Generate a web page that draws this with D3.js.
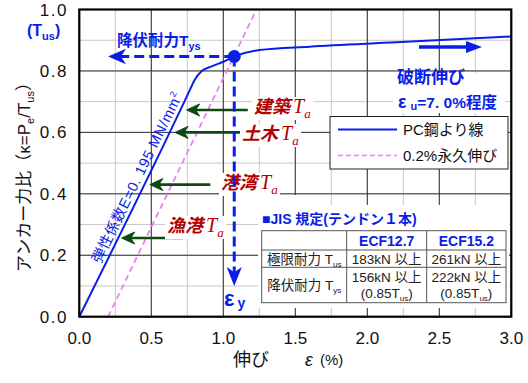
<!DOCTYPE html>
<html><head><meta charset="utf-8">
<script src="https://cdn.jsdelivr.net/npm/d3@7"></script>
<style>
body{margin:0;background:#fff;}
text{font-family:"Liberation Sans","Noto Sans CJK JP",sans-serif;}
</style></head><body>
<svg id="chart" width="528" height="383"></svg>
<script>
// ---- data ----
const curveX = [0, 0.76, 0.80, 0.85, 0.92, 1.0, 1.076, 1.25, 1.6, 2.2, 3.0];
const curveY = [0, 0.73, 0.77, 0.80, 0.815, 0.83, 0.847, 0.868, 0.879, 0.893, 0.912];
const offsetX = [0.2, 1.23];
const offsetY = [0, 1.0];
const yieldPoint = [1.076, 0.847];
const xTicks = [0, 0.5, 1.0, 1.5, 2.0, 2.5, 3.0];
const yTicks = [0, 0.2, 0.4, 0.6, 0.8, 1.0];
const arrowNames = ["建築", "土木", "港湾", "漁港"];
const arrowY = [0.673, 0.6, 0.43, 0.256];
const arrowTail = [1.17, 1.14, 0.91, 0.72];
const arrowTip = [0.745, 0.665, 0.49, 0.294];
const tableCols = ["", "ECF12.7", "ECF15.2"];
const tableRow1 = ["極限耐力 T|us", "183kN 以上", "261kN 以上"];
const tableRow2 = ["降伏耐力 T|ys", "156kN 以上", "222kN 以上"];

const svg = d3.select("#chart");
const x = d3.scaleLinear().domain([0, 3]).range([79.3, 511.3]);
const y = d3.scaleLinear().domain([0, 1]).range([316.7, 9.5]);
const BLUE = "#0a1ee6", RED = "#b30000", GREEN = "#0c4a12", PINK = "#f07cf0";

// grid
const g = svg.append("g");
g.selectAll(".vx").data(d3.range(0, 3.001, 0.25)).join("line")
  .attr("x1", d => x(d)).attr("x2", d => x(d)).attr("y1", y(0)).attr("y2", y(1))
  .attr("stroke", "#c8c8c8").attr("stroke-width", 1);
g.selectAll(".hy").data(d3.range(0, 1.001, 0.1)).join("line")
  .attr("y1", d => y(d)).attr("y2", d => y(d)).attr("x1", x(0)).attr("x2", x(3))
  .attr("stroke", "#c8c8c8").attr("stroke-width", 1);
g.selectAll(".vxm").data(xTicks).join("line")
  .attr("x1", d => x(d)).attr("x2", d => x(d)).attr("y1", y(0)).attr("y2", y(1))
  .attr("stroke", "#333").attr("stroke-width", 1);
g.selectAll(".hym").data(yTicks).join("line")
  .attr("y1", d => y(d)).attr("y2", d => y(d)).attr("x1", x(0)).attr("x2", x(3))
  .attr("stroke", "#333").attr("stroke-width", 1);

// white boxes behind annotations
svg.append("rect").attr("x", 258).attr("y", 205).attr("width", 251).attr("height", 103).attr("fill", "#fff");
svg.append("rect").attr("x", 258).attr("y", 195).attr("width", 72).attr("height", 14).attr("fill", "#fff");
svg.append("rect").attr("x", 393).attr("y", 73).attr("width", 112).attr("height", 40).attr("fill", "#fff");

// pink offset line
svg.append("line").attr("x1", x(offsetX[0])).attr("y1", y(offsetY[0]))
  .attr("x2", x(offsetX[1])).attr("y2", y(offsetY[1]))
  .attr("stroke", PINK).attr("stroke-width", 1.8).attr("stroke-dasharray", "6,4");

// curve
const pts = curveX.map((d, i) => [d, curveY[i]]);
svg.append("path").datum(pts)
  .attr("d", d3.line().x(d => x(d[0])).y(d => y(d[1])).curve(d3.curveMonotoneX))
  .attr("fill", "none").attr("stroke", BLUE).attr("stroke-width", 2);

// green arrows
arrowY.forEach((v, i) => {
  const yy = y(v), x1 = x(arrowTail[i]), x2 = x(arrowTip[i]);
  svg.append("line").attr("x1", x1).attr("x2", x2 + 4).attr("y1", yy).attr("y2", yy)
    .attr("stroke", GREEN).attr("stroke-width", 2.6);
  svg.append("path").attr("d", `M${x2},${yy} L${x2 + 13},${yy - 6} L${x2 + 9},${yy} L${x2 + 13},${yy + 6} Z`)
    .attr("fill", GREEN).attr("stroke", GREEN).attr("stroke-width", 1);
});

// red labels
const labPos = [[254, 113], [242, 140], [221, 189], [167, 232]];
arrowNames.forEach((n, i) => {
  const t = svg.append("text").attr("x", labPos[i][0]).attr("y", labPos[i][1])
    .attr("fill", RED).attr("font-weight", "bold").attr("font-style", "italic").attr("font-size", 18);
  t.append("tspan").text(n);
  t.append("tspan").attr("dx", 3).attr("font-family", "Liberation Serif").attr("font-size", 20).attr("font-weight", "normal").text("T");
  t.append("tspan").attr("dy", 5).attr("font-family", "Liberation Serif").attr("font-size", 13).attr("font-weight", "normal").text("a");
});
svg.selectAll("text").filter(function(){return d3.select(this).attr("fill")===RED;}).each(function(){
  const b = this.getBBox();
  svg.insert("rect", "text").attr("x", b.x - 2).attr("y", b.y + 2).attr("width", b.width + 4).attr("height", b.height - 3).attr("fill", "#fff");
});

// blue dashed yield lines
svg.append("line").attr("x1", x(yieldPoint[0])).attr("y1", y(yieldPoint[1]))
  .attr("x2", 118).attr("y2", y(yieldPoint[1]))
  .attr("stroke", BLUE).attr("stroke-width", 3).attr("stroke-dasharray", "10,5");
svg.append("path").attr("d", `M110,${y(yieldPoint[1])} l14,-6 l-4,6 l4,6 Z`).attr("fill", BLUE).attr("stroke", BLUE).attr("stroke-width", 1.5);
svg.append("line").attr("x1", x(yieldPoint[0])).attr("y1", y(yieldPoint[1]))
  .attr("x2", x(yieldPoint[0])).attr("y2", 276)
  .attr("stroke", BLUE).attr("stroke-width", 3).attr("stroke-dasharray", "10,5");
svg.append("path").attr("d", `M${x(yieldPoint[0])},284 l-6,-15 l6,4 l6,-4 Z`).attr("fill", BLUE).attr("stroke", BLUE).attr("stroke-width", 1.5);
svg.append("circle").attr("cx", x(yieldPoint[0])).attr("cy", y(yieldPoint[1])).attr("r", 6.5).attr("fill", BLUE);

// blue right arrow
svg.append("line").attr("x1", 419).attr("x2", 472).attr("y1", 47).attr("y2", 47).attr("stroke", BLUE).attr("stroke-width", 3.5);
svg.append("path").attr("d", "M482,47 l-16,-6 l0,12 Z").attr("fill", BLUE);

// blue texts
const t1 = svg.append("text").attr("x", 117).attr("y", 46).attr("fill", BLUE).attr("font-weight", "bold").attr("font-size", 15.5);
t1.append("tspan").text("降伏耐力T");
t1.append("tspan").attr("dy", 4).attr("font-size", 11).text("ys");
const te = svg.append("text").attr("x", 224).attr("y", 306).attr("fill", BLUE).attr("font-weight", "bold").attr("font-size", 22);
te.append("tspan").text("ε");
te.append("tspan").attr("dx", 3).attr("dy", 2).attr("font-size", 14).text("y");
svg.append("text").attr("x", 397).attr("y", 83).attr("fill", BLUE).attr("font-weight", "bold").attr("font-size", 17).text("破断伸び");
const tu = svg.append("text").attr("x", 398).attr("y", 108).attr("fill", BLUE).attr("font-weight", "bold").attr("font-size", 15.5);
tu.append("tspan").attr("font-size", 18).text("ε");
tu.append("tspan").attr("dx", 4).attr("dy", 2).attr("font-size", 11).text("u");
tu.append("tspan").attr("dy", -2).text("=7. 0%程度");

// rotated modulus text
{
  const py = 0.44, px = py * 1.04;
  const ang = Math.atan2(y(py + 0.1) - y(py), x(px + 0.104) - x(px)) * 180 / Math.PI;
  const tr = svg.append("text").attr("transform", `translate(${x(px)},${y(py)}) rotate(${ang})`)
    .attr("y", -4).attr("text-anchor", "middle").attr("fill", BLUE).attr("font-size", 14.5).attr("letter-spacing", 0.6);
  tr.append("tspan").text("弾性係数E=0. 195  MN/mm");
  tr.append("tspan").attr("dy", -6).attr("font-size", 9).text("2");
}

// legend
svg.append("rect").attr("x", 330).attr("y", 116.5).attr("width", 178).attr("height", 52.5)
  .attr("fill", "#fff").attr("stroke", "#222").attr("stroke-width", 1);
svg.append("line").attr("x1", 338).attr("x2", 397).attr("y1", 129.5).attr("y2", 129.5).attr("stroke", BLUE).attr("stroke-width", 2);
svg.append("line").attr("x1", 338).attr("x2", 397).attr("y1", 155.5).attr("y2", 155.5).attr("stroke", PINK).attr("stroke-width", 1.5).attr("stroke-dasharray", "5,3");
svg.append("text").attr("x", 403).attr("y", 135).attr("font-size", 15).attr("fill", "#111").text("PC鋼より線");
svg.append("text").attr("x", 403).attr("y", 161).attr("font-size", 15).attr("fill", "#111").text("0.2%永久伸び");

// JIS table
svg.append("text").attr("x", 262).attr("y", 224).attr("fill", BLUE).attr("font-weight", "bold").attr("font-size", 14).text("■JIS 規定(テンドン１本)");
const colX = [261.7, 346.7, 426.7, 506];
const rowY = [230.7, 250, 267.3, 302.7];
const tb = svg.append("g");
tb.append("rect").attr("x", colX[0]).attr("y", rowY[0]).attr("width", colX[3] - colX[0]).attr("height", rowY[3] - rowY[0])
  .attr("fill", "#fff").attr("stroke", "#555").attr("stroke-width", 1);
colX.slice(1, 3).forEach(cx => tb.append("line").attr("x1", cx).attr("x2", cx).attr("y1", rowY[0]).attr("y2", rowY[3]).attr("stroke", "#555"));
rowY.slice(1, 3).forEach(ry => tb.append("line").attr("y1", ry).attr("y2", ry).attr("x1", colX[0]).attr("x2", colX[3]).attr("stroke", "#555"));
const cmid = i => (colX[i] + colX[i + 1]) / 2;
tableCols.forEach((c, i) => { if (c) tb.append("text").attr("x", cmid(i)).attr("y", 246).attr("text-anchor", "middle").attr("fill", BLUE).attr("font-weight", "bold").attr("font-size", 14).text(c); });
function headCell(txt, yy) {
  const [a, s] = txt.split("|");
  const t = tb.append("text").attr("x", cmid(0)).attr("y", yy).attr("text-anchor", "middle").attr("font-size", 13.5).attr("fill", "#222");
  t.append("tspan").text(a);
  t.append("tspan").attr("dy", 3).attr("font-size", 8).text(s);
}
headCell(tableRow1[0], 264);
headCell(tableRow2[0], 290);
[1, 2].forEach(i => {
  tb.append("text").attr("x", cmid(i)).attr("y", 264).attr("text-anchor", "middle").attr("font-size", 13.5).attr("fill", "#222").text(tableRow1[i]);
  tb.append("text").attr("x", cmid(i)).attr("y", 282).attr("text-anchor", "middle").attr("font-size", 13.5).attr("fill", "#222").text(tableRow2[i]);
  const t = tb.append("text").attr("x", cmid(i)).attr("y", 298).attr("text-anchor", "middle").attr("font-size", 13.5).attr("fill", "#222");
  t.append("tspan").text("(0.85T");
  t.append("tspan").attr("dy", 3).attr("font-size", 8).text("us");
  t.append("tspan").attr("dy", -3).text(")");
});

// frame
svg.append("rect").attr("x", x(0)).attr("y", y(1)).attr("width", x(3) - x(0)).attr("height", y(0) - y(1))
  .attr("fill", "none").attr("stroke", "#000").attr("stroke-width", 2.2);

// axes labels
svg.selectAll(".xt").data(xTicks).join("text").attr("x", d => x(d)).attr("y", 344).attr("text-anchor", "middle")
  .attr("font-size", 17).attr("fill", "#111").text(d => d.toFixed(1));
svg.selectAll(".yt").data(yTicks).join("text").attr("x", 68).attr("y", d => y(d) + 6).attr("text-anchor", "end")
  .attr("font-size", 17).attr("letter-spacing", 1.5).attr("fill", "#111").text(d => d.toFixed(1));
const tus = svg.append("text").attr("x", 27).attr("y", 36).attr("fill", BLUE).attr("font-weight", "bold").attr("font-size", 16);
tus.append("tspan").text("(T");
tus.append("tspan").attr("dy", 4).attr("font-size", 11).text("us");
tus.append("tspan").attr("dy", -4).text(")");

const yt = svg.append("text").attr("transform", "translate(30,173) rotate(-90)").attr("text-anchor", "middle")
  .attr("font-size", 17).attr("fill", "#111");
yt.append("tspan").text("アンカー力比（κ=P");
yt.append("tspan").attr("dy", 4).attr("font-size", 11).text("e");
yt.append("tspan").attr("dy", -4).text("/T");
yt.append("tspan").attr("dy", 4).attr("font-size", 11).text("us");
yt.append("tspan").attr("dy", -4).text("）");

svg.append("text").attr("x", 233).attr("y", 366).attr("font-size", 18).attr("fill", "#111").text("伸び");
svg.append("text").attr("x", 305).attr("y", 366).attr("font-size", 18).attr("font-style", "italic").attr("fill", "#111").text("ε");
svg.append("text").attr("x", 320).attr("y", 365).attr("font-size", 15).attr("fill", "#111").text("(%)");
</script></body></html>
